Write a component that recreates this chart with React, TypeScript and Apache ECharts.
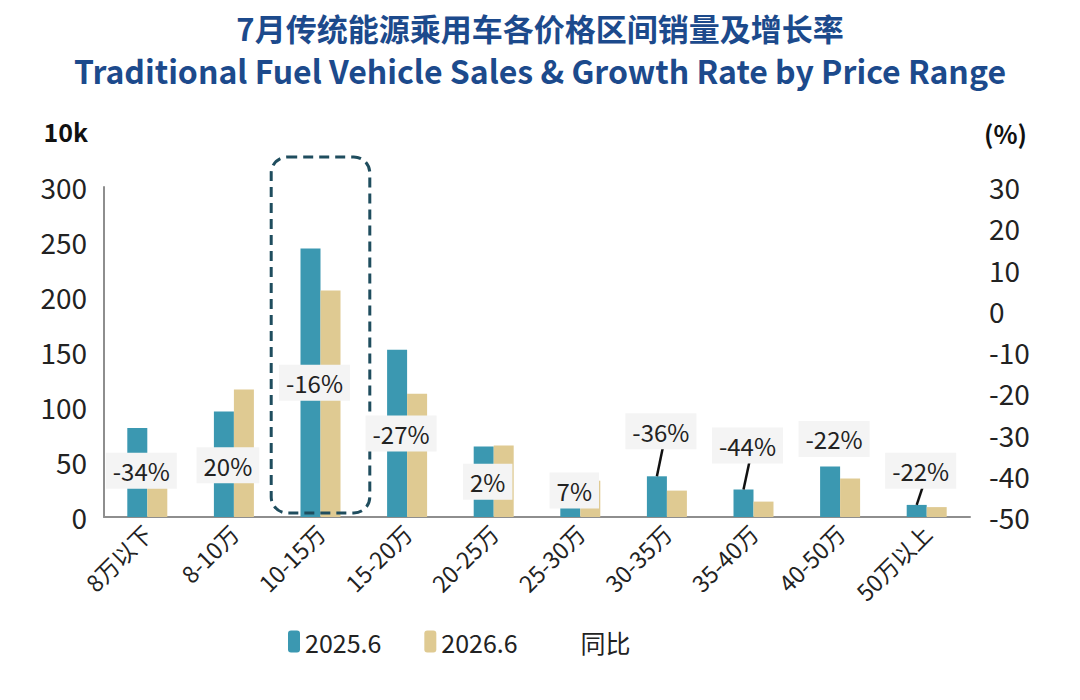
import { useEffect, useRef } from 'react'
import * as echarts from 'echarts'

const categories = [
  '8万以下',
  '8-10万',
  '10-15万',
  '15-20万',
  '20-25万',
  '25-30万',
  '30-35万',
  '35-40万',
  '40-50万',
  '50万以上',
]
const sales2025 = [81, 96, 244, 152, 64, 10, 37, 25, 46, 11]
const sales2026 = [53, 116, 206, 112, 65, 33, 24, 14, 35, 9]
const growth = [-34, 20, -16, -27, 2, 7, -36, -44, -22, -22]
// height (10k, left axis) where each growth label box was placed
const growthLabelAt = [42, 47, 122, 76, 32, 24, 78, 65, 71, 42]
const hasLeader = [false, false, false, false, false, false, true, true, false, true]
const highlightIndex = 2

const FONT = "'Noto Sans CJK SC', 'Noto Sans', sans-serif"
const BLUE = '#3b98b1'
const TAN = '#dfca92'

export default function App() {
  const chartRef = useRef<HTMLDivElement>(null)

  useEffect(() => {
    if (!chartRef.current) return
    const chart = echarts.init(chartRef.current, null, { renderer: 'svg' })

    const option: any = {
      animation: false,
      textStyle: { fontFamily: FONT },
      title: [
        {
          text: '7月传统能源乘用车各价格区间销量及增长率',
          left: 'center',
          top: 10,
          padding: 0,
          textStyle: {
            fontFamily: FONT,
            fontSize: 31,
            lineHeight: 34,
            fontWeight: 'bold',
            color: '#1c4a8c',
          },
        },
        {
          text: 'Traditional Fuel Vehicle Sales & Growth Rate by Price Range',
          left: 'center',
          top: 52,
          padding: 0,
          textStyle: {
            fontFamily: FONT,
            fontSize: 32,
            lineHeight: 36,
            fontWeight: 'bold',
            color: '#1c4a8c',
          },
        },
      ],
      legend: {
        left: 283,
        top: 624,
        itemWidth: 12,
        itemHeight: 22,
        itemGap: 43,
        textStyle: { fontFamily: FONT, fontSize: 25, color: '#222' },
        data: [
          { name: '2025.6' },
          { name: '2026.6' },
          { name: '同比', itemStyle: { opacity: 0 }, lineStyle: { opacity: 0 } },
        ],
      },
      grid: { left: 104, right: 110, top: 187, bottom: 183 },
      xAxis: {
        type: 'category',
        data: categories,
        axisLine: { lineStyle: { color: '#8e8e8e', width: 2 } },
        axisTick: { show: false },
        axisLabel: {
          interval: 0,
          rotate: 45,
          margin: 12,
          fontSize: 23,
          color: '#222',
          fontFamily: FONT,
        },
      },
      yAxis: [
        {
          type: 'value',
          min: 0,
          max: 300,
          interval: 50,
          name: '10k',
          nameGap: 44,
          nameTextStyle: {
            fontFamily: FONT,
            fontSize: 25,
            fontWeight: 'bold',
            color: '#111',
            align: 'right',
            padding: [0, 16, 0, 0],
          },
          axisLine: { show: true, lineStyle: { color: '#8e8e8e', width: 2 } },
          axisTick: { show: false },
          splitLine: { show: false },
          axisLabel: { fontSize: 28, margin: 17, color: '#222', fontFamily: FONT },
        },
        {
          type: 'value',
          min: -50,
          max: 30,
          interval: 10,
          name: '(%)',
          nameGap: 42,
          nameTextStyle: {
            fontFamily: FONT,
            fontSize: 25,
            fontWeight: 'bold',
            color: '#111',
            align: 'left',
            padding: [0, 0, 0, 14],
          },
          axisLine: { show: false },
          axisTick: { show: false },
          splitLine: { show: false },
          axisLabel: { fontSize: 28, margin: 19, color: '#222', fontFamily: FONT },
        },
      ],
      series: [
        {
          name: '2025.6',
          type: 'bar',
          barWidth: 20,
          barGap: '0%',
          itemStyle: { color: BLUE },
          data: sales2025,
        },
        {
          name: '2026.6',
          type: 'bar',
          barWidth: 20,
          barGap: '0%',
          itemStyle: { color: TAN },
          data: sales2026,
        },
        {
          name: '同比',
          type: 'line',
          yAxisIndex: 1,
          symbol: 'none',
          silent: true,
          lineStyle: { opacity: 0 },
          data: growth,
        },
        {
          // growth labels with leader lines
          type: 'custom',
          z: 5,
          silent: true,
          data: categories.map((_, i) => [i, growthLabelAt[i]]),
          encode: { x: 0, y: 1 },
          renderItem: (_params: any, api: any) => {
            const i = api.value(0)
            const [cx, cy] = api.coord([i, api.value(1)])
            const children: any[] = []
            if (hasLeader[i]) {
              const top = api.coord([i, sales2025[i]])
              children.push({
                type: 'line',
                shape: { x1: cx - 10, y1: top[1], x2: cx - 4, y2: cy + 16 },
                style: { stroke: '#111', lineWidth: 2.5 },
              })
            }
            children.push({
              type: 'text',
              style: {
                text: growth[i] + '%',
                x: cx - 6,
                y: cy,
                align: 'center',
                verticalAlign: 'middle',
                fontSize: 24,
                fontFamily: FONT,
                fill: '#222',
                backgroundColor: '#f4f4f4',
                padding: [6, 7],
              },
            })
            return { type: 'group', children }
          },
        },
        {
          // dashed highlight around one price range
          type: 'custom',
          z: 4,
          silent: true,
          data: [[highlightIndex, 0]],
          encode: { x: 0, y: 1 },
          renderItem: (_params: any, api: any) => {
            const i = api.value(0)
            const base = api.coord([i, 0])
            const top = api.coord([i, 300])
            const band = api.size([1, 0])[0]
            return {
              type: 'rect',
              shape: {
                x: base[0] - band / 2 - 6,
                y: top[1] - 30,
                width: band + 12,
                height: base[1] - top[1] + 26,
                r: 16,
              },
              style: { fill: 'none', stroke: '#1f4d5e', lineWidth: 3, lineDash: [10, 6] },
            }
          },
        },
      ],
    }

    chart.setOption(option)
    return () => {
      chart.dispose()
    }
  }, [])

  return (
    <div
      ref={chartRef}
      style={{ position: 'fixed', left: 0, top: 0, width: 1080, height: 700, background: '#fff' }}
    />
  )
}
